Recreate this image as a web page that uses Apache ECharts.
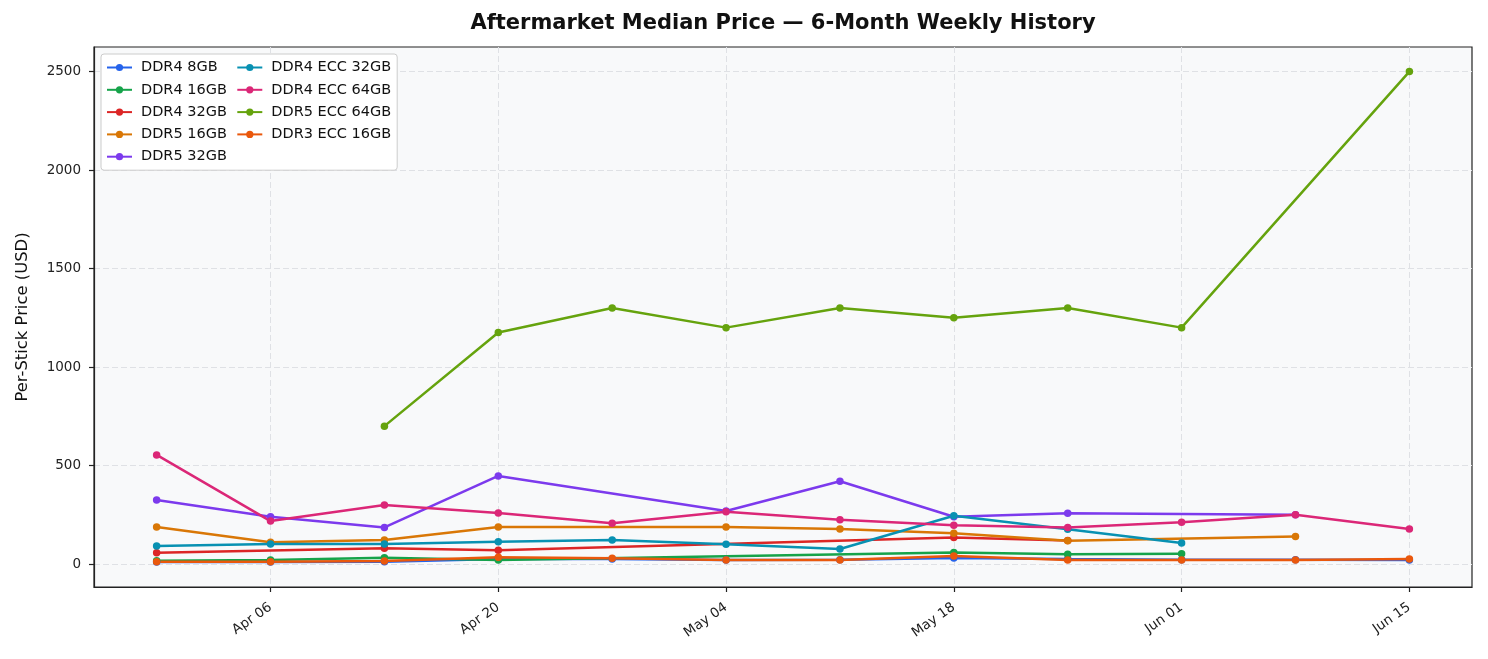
<!DOCTYPE html>
<html>
<head>
<meta charset="utf-8">
<script src="https://cdn.jsdelivr.net/npm/echarts@6/dist/echarts.min.js"></script>
<style>
  html, body { margin: 0; padding: 0; background: #ffffff; }
  #chart { width: 1488px; height: 659px; }
</style>
</head>
<body>
<div id="chart"></div>
<script>
// Weekly sample dates (Sundays)
const weeks = ['2025-03-30', '2025-04-06', '2025-04-13', '2025-04-20', '2025-04-27', '2025-05-04',
               '2025-05-11', '2025-05-18', '2025-05-25', '2025-06-01', '2025-06-08', '2025-06-15'];

// Median price per stick (USD), null = no listing that week
const ddr4_8gb    = [10, 10, 12, 25, 25, 20, 22, 30, 25, 22, 22, 20];
const ddr4_16gb   = [17, 20, 32, 20, null, null, null, 58, 50, 52, null, null];
const ddr4_32gb   = [57, null, 80, 70, null, null, null, 135, 120, null, null, null];
const ddr5_16gb   = [188, 110, 122, 188, null, 188, 178, 156, 118, null, 140, null];
const ddr5_32gb   = [325, 240, 186, 447, null, 269, 420, 240, 258, null, 250, null];
const ddr4ecc_32  = [91, 102, 102, 113, 122, 100, 76, 245, 176, 107, null, null];
const ddr4ecc_64  = [554, 218, 300, 259, 207, 265, 225, 197, 186, 212, 250, 178];
const ddr5ecc_64  = [null, null, 700, 1175, 1300, 1200, 1300, 1250, 1300, 1200, null, 2500];
const ddr3ecc_16  = [12, 12, 15, 34, 29, 20, 20, 41, 20, 20, 20, 25];

const seriesNames = ['DDR4 8GB', 'DDR4 16GB', 'DDR4 32GB', 'DDR5 16GB', 'DDR5 32GB',
                     'DDR4 ECC 32GB', 'DDR4 ECC 64GB', 'DDR5 ECC 64GB', 'DDR3 ECC 16GB'];
const seriesValues = [ddr4_8gb, ddr4_16gb, ddr4_32gb, ddr5_16gb, ddr5_32gb,
                      ddr4ecc_32, ddr4ecc_64, ddr5ecc_64, ddr3ecc_16];
const seriesColors = ['#2563eb', '#16a34a', '#dc2626', '#d97706', '#7c3aed',
                      '#0891b2', '#db2777', '#65a30d', '#ea580c'];

const xTickDates = ['2025-04-06', '2025-04-20', '2025-05-04', '2025-05-18', '2025-06-01', '2025-06-15'];
const yTicks = [0, 500, 1000, 1500, 2000, 2500];

const MONTHS = ['Jan', 'Feb', 'Mar', 'Apr', 'May', 'Jun', 'Jul', 'Aug', 'Sep', 'Oct', 'Nov', 'Dec'];

function toTime(s) {
    const p = s.split('-').map(Number);
    return new Date(p[0], p[1] - 1, p[2]).getTime();
}

function fmtDate(t) {
    const d = new Date(t);
    return MONTHS[d.getMonth()] + ' ' + String(d.getDate()).padStart(2, '0');
}

// matplotlib-like 5% margins around the data
const weekTimes = weeks.map(toTime);
const span = weekTimes[weekTimes.length - 1] - weekTimes[0];
const xMin = weekTimes[0] - span * 0.05;
const xMax = weekTimes[weekTimes.length - 1] + span * 0.05;
const yMin = 8 - 0.05 * 2492;
const yMax = 2500 + 0.05 * 2492;

const chart = echarts.init(document.getElementById('chart'), null, { renderer: 'canvas' });

const font = 'DejaVu Sans';
const gridLine = { show: true, lineStyle: { color: '#dfe1e5', type: [6, 3], width: 1 } };

const series = seriesNames.map((name, i) => ({
    name: name,
    type: 'line',
    data: weekTimes
        .map((t, k) => [t, seriesValues[i][k]])
        .filter(d => d[1] !== null),
    symbol: 'circle',
    symbolSize: 7.5,
    lineStyle: { width: 2.5, color: seriesColors[i] },
    itemStyle: { color: seriesColors[i] },
    emphasis: { disabled: true }
}));

const option = {
    backgroundColor: '#ffffff',
    animation: false,
    graphic: [{
        type: 'text',
        x: 783,
        y: 13,
        style: {
            text: 'Aftermarket Median Price \u2014 6-Month Weekly History',
            font: 'bold 21px "DejaVu Sans"',
            fill: '#111111',
            align: 'center',
            verticalAlign: 'top'
        }
    }],
    legend: {
        orient: 'vertical',
        left: 101,
        top: 54,
        height: 110,
        padding: [6, 6, 6, 5],
        itemWidth: 25,
        itemHeight: 9,
        itemGap: 7.3,
        backgroundColor: '#ffffff',
        borderColor: '#cccccc',
        borderWidth: 1,
        borderRadius: 3,
        textStyle: {
            fontFamily: font, fontSize: 14.5, color: '#111111',
            width: 88, lineHeight: 14, padding: [0, 0, 0, 4]
        },
        data: seriesNames
    },
    grid: {
        left: 94,
        right: 16,
        top: 47,
        bottom: 72,
        show: true,
        backgroundColor: '#f8f9fa',
        borderColor: '#222222',
        borderWidth: 1.2
    },
    xAxis: {
        type: 'value',
        min: xMin,
        max: xMax,
        axisLine: { show: true, onZero: false, lineStyle: { color: '#222222', width: 1.2 } },
        axisTick: {
            show: true, length: 5, lineStyle: { color: '#222222', width: 1.2 },
            customValues: xTickDates.map(toTime)
        },
        axisLabel: {
            customValues: xTickDates.map(toTime),
            formatter: v => fmtDate(v),
            rotate: 35,
            margin: 19,
            fontFamily: font,
            fontSize: 13.5,
            color: '#222222'
        },
        splitLine: gridLine
    },
    yAxis: {
        type: 'value',
        min: yMin,
        max: yMax,
        name: 'Per-Stick Price (USD)',
        nameLocation: 'middle',
        nameGap: 63,
        nameTextStyle: { fontFamily: font, fontSize: 16.4, color: '#111111' },
        axisLine: { show: true, onZero: false, lineStyle: { color: '#222222', width: 1.2 } },
        axisTick: {
            show: true, length: 5, lineStyle: { color: '#222222', width: 1.2 },
            customValues: yTicks
        },
        axisLabel: {
            customValues: yTicks,
            formatter: v => String(v),
            margin: 13,
            fontFamily: font,
            fontSize: 13.5,
            color: '#222222'
        },
        splitLine: gridLine
    },
    series: series
};

chart.setOption(option);
</script>
</body>
</html>
